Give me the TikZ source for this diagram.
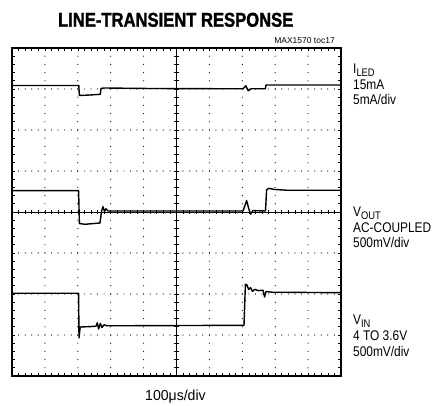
\documentclass[tikz,border=0pt]{standalone}
\usepackage{fontspec}
\setmainfont{Liberation Sans}
\newfontfamily\titlefont[FakeStretch=0.83,FakeBold=1.5]{Liberation Sans Bold}
\newfontfamily\lblfont[FakeStretch=0.85]{Liberation Sans}
\newfontfamily\axfont[FakeStretch=0.97]{Liberation Sans}
\begin{document}
\begin{tikzpicture}[x=1pt,y=-1pt,
  frame/.style={line width=2.6pt,black},
  axisline/.style={line width=0.7pt,black},
  tickline/.style={line width=0.6pt,black},
  trace/.style={line width=1.4pt,black,line join=round},
  lbl/.style={inner sep=0pt,font=\lblfont\fontsize{14}{16}\selectfont,anchor=base west}]
\useasboundingbox (0,0) rectangle (445,406);
% dotted grid lines
\foreach \j in {1,2,3,5,6,7}
  \foreach \i in {1,...,49}
    \fill ({12+\i*6.58},{48+\j*41}) circle (0.6pt);
\foreach \i in {1,2,3,4,6,7,8,9}
  \foreach \j in {1,...,39}
    \fill ({12+\i*32.9},{48+\j*8.2}) circle (0.6pt);
% centre axes
\draw[axisline] (12,212) -- (341,212);
\draw[axisline] (176.5,48) -- (176.5,376);
\foreach \i in {1,...,49}
  \draw[tickline] ({12+\i*6.58},209.8) -- ++(0,4.4);
\foreach \j in {1,...,39}
  \draw[tickline] (174.3,{48+\j*8.2}) -- ++(4.4,0);
% frame ticks
\foreach \i in {1,...,49} {
  \draw[tickline] ({12+\i*6.58},48) -- ++(0,3);
  \draw[tickline] ({12+\i*6.58},376) -- ++(0,-3);
}
\foreach \j in {1,...,39} {
  \draw[tickline] (12,{48+\j*8.2}) -- ++(3,0);
  \draw[tickline] (341,{48+\j*8.2}) -- ++(-3,0);
}
\draw[frame] (12,48) rectangle (341,376);
% ILED trace
\draw[trace] (12,85.5) -- (78.8,85.5) -- (79.4,95.5) -- (90,95) -- (100.3,94.3)
  -- (101,88.5) -- (104,88) -- (150,88.5) -- (243,88.8) -- (245.8,85.8)
  -- (248.3,90.8) -- (251,88.8) -- (265.3,88.8) -- (266,85) -- (341,85);
% VOUT trace
\draw[trace] (12,190.7) -- (78.6,190.7) -- (79.4,223.5) -- (85,224.3) -- (100,223)
  -- (101.6,211) -- (103,206.6) -- (104.5,211.5) -- (106,208.8) -- (108,211)
  -- (243,211) -- (246.6,200.6) -- (249,209.5) -- (250.6,214.2) -- (253,210.6)
  -- (265.5,211) -- (266.6,190) -- (268.5,188.4) -- (275,189.5) -- (288,190.3)
  -- (341,190.3);
% VIN trace
\draw[trace] (12,293.3) -- (78.6,293.3) -- (79,338) -- (80.2,327) -- (90,326.6)
  -- (96,326.2) -- (97.3,322.8) -- (98.6,329) -- (100.3,323.5) -- (102,327.5)
  -- (104,324.8) -- (107,325.8) -- (244,325.3) -- (245.4,284.3) -- (247,285)
  -- (248.6,289.5) -- (250.5,287.6) -- (252.5,291.3) -- (255,289.3) -- (258,290.6)
  -- (263,290.2) -- (264.6,297) -- (266,291.6) -- (272,292.2) -- (341,292.7);
% texts
\node[inner sep=0pt,anchor=base] (title) at (175.7,26.7)
  {\titlefont\fontsize{20}{20}\selectfont LINE-TRANSIENT RESPONSE};
\node[inner sep=0pt,anchor=base east] (toc) at (335,43.3)
  {\fontsize{8.5}{9}\selectfont MAX1570 toc17};
\node[lbl] (iled) at (353,74) {I\raisebox{-2.8pt}{\fontsize{11}{10}\selectfont LED}};
\node[lbl] (iledA) at (353,89.5) {15mA};
\node[lbl] (iledB) at (353,105) {5mA/div};
\node[lbl] (vout) at (353,217) {V\raisebox{-2.8pt}{\fontsize{11}{10}\selectfont OUT}};
\node[lbl] (voutA) at (353,232.5) {AC-COUPLED};
\node[lbl] (voutB) at (353,248) {500mV/div};
\node[lbl] (vin) at (353,325) {V\raisebox{-2.8pt}{\fontsize{11}{10}\selectfont IN}};
\node[lbl] (vinA) at (353,340.5) {4 TO 3.6V};
\node[lbl] (vinB) at (353,356) {500mV/div};
\node[inner sep=0pt,anchor=base west] (xlab) at (145,400.5)
  {\axfont\fontsize{14.5}{16}\selectfont 100μs/div};
\end{tikzpicture}
\end{document}
